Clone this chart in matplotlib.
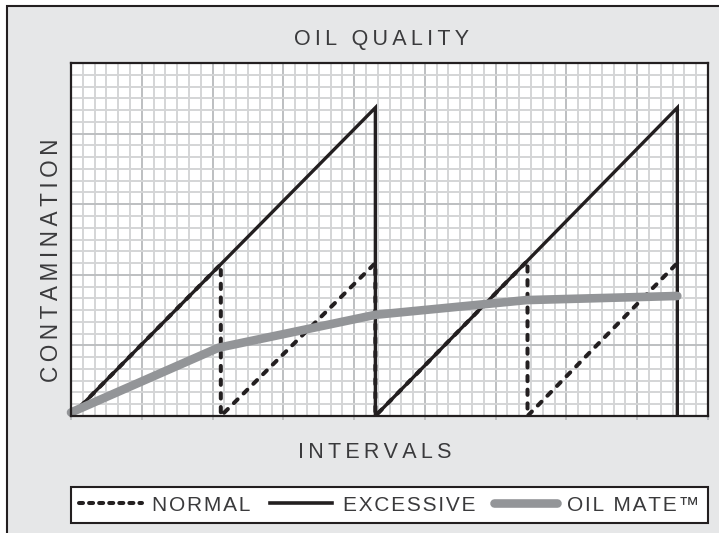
import matplotlib
matplotlib.use("Agg")
import matplotlib.pyplot as plt
from matplotlib.lines import Line2D
from matplotlib.patches import Rectangle
from matplotlib.ticker import MultipleLocator

# ---- data (grid-cell units) ----
excessive_x = [0, 25.8, 25.8, 51.4, 51.4]
excessive_y = [0, 26.2, 0, 26.2, 0]
normal_x = [0, 12.7, 12.7, 25.8, 25.8, 38.7, 38.7, 51.4]
normal_y = [0, 12.9, 0, 13.0, 0, 13.2, 0, 13.0]
oil_x = [0, 12.5, 25.8, 38.6, 51.4]
oil_y = [0.3, 5.8, 8.6, 9.85, 10.2]
labels = ["NORMAL", "EXCESSIVE", "OIL MATE™"]
title = "OIL QUALITY"
xlabel = "INTERVALS"
ylabel = "CONTAMINATION"

BLACK = "#231f20"
GRAY = "#939598"
BG = "#e6e7e8"
TXT = "#3a3a3c"
FONT = ["Liberation Sans", "DejaVu Sans"]
plt.rcParams["font.family"] = FONT


def track(s, sp):
    return sp.join(s)


W, H = 719, 533
fig = plt.figure(figsize=(W / 100, H / 100), dpi=100, facecolor="white")

# panel background
bg = Rectangle((7 / W, -0.1), 1.2, 1 - 6 / H + 0.1, transform=fig.transFigure,
               facecolor=BG, edgecolor=BLACK, linewidth=1.5, zorder=-10)
fig.patches.append(bg)

ax = fig.add_axes([71 / W, 1 - 416 / H, 637 / W, 353 / H])
ax.set_zorder(1)
ax.set_facecolor("white")
ax.set_xlim(0, 54)
ax.set_ylim(0, 30)
ax.xaxis.set_major_locator(MultipleLocator(6))
ax.yaxis.set_major_locator(MultipleLocator(6))
ax.xaxis.set_minor_locator(MultipleLocator(1))
ax.yaxis.set_minor_locator(MultipleLocator(1))
ax.grid(which="minor", color="#d4d5d6", linewidth=1.4)
ax.grid(which="major", color="#bdbfc1", linewidth=1.4)
ax.set_axisbelow(True)
ax.tick_params(which="both", labelbottom=False, labelleft=False)
ax.tick_params(which="minor", length=0)
ax.tick_params(axis="x", which="major", direction="out", length=3, width=1.4, color="#bdbfc1")
ax.tick_params(axis="y", which="major", length=0)
for s in ax.spines.values():
    s.set_color(BLACK)
    s.set_linewidth(1.6)
    s.set_zorder(5)

ax.plot(excessive_x, excessive_y, color=BLACK, lw=2.4, solid_joinstyle="miter", zorder=3)
ax.plot(normal_x, normal_y, color=BLACK, lw=2.9, dashes=(1.3, 2.1), dash_capstyle="round", zorder=3)
ax.plot(oil_x, oil_y, color=GRAY, lw=6.2, solid_capstyle="round", solid_joinstyle="round",
        zorder=4, clip_on=False)

fs = 15.5
TS = "\u2009"
fig.text(381 / W, 1 - 39 / H, track(title, TS), ha="center", va="center", fontsize=fs, color=TXT)
fig.text(375 / W, 1 - 452 / H, track(xlabel, TS), ha="center", va="center", fontsize=fs, color=TXT)
fig.text(52 / W, 1 - 260 / H, track(ylabel, TS), ha="center", va="center", rotation=90,
         fontsize=16.3, color=TXT)

handles = [
    Line2D([], [], color=BLACK, lw=2.9, dashes=(1.0, 1.5), dash_capstyle="round"),
    Line2D([], [], color=BLACK, lw=2.6),
    Line2D([], [], color=GRAY, lw=6.2, solid_capstyle="round"),
]
leg = fig.legend(handles, [track(l, "\u200a") for l in labels], loc="lower left", ncol=3,
                 mode="expand", bbox_to_anchor=(71 / W, 1 - 523 / H, 637 / W, 38 / H),
                 borderaxespad=0, fontsize=15, handlelength=3.0, handletextpad=0.5,
                 columnspacing=0.5, frameon=True, fancybox=False, edgecolor=BLACK,
                 borderpad=0.4, labelcolor=TXT)
leg.get_frame().set_linewidth(1.5)
leg.get_frame().set_facecolor("white")
leg.get_frame().set_alpha(None)

fig.savefig("out.png", dpi=100, facecolor="white")
